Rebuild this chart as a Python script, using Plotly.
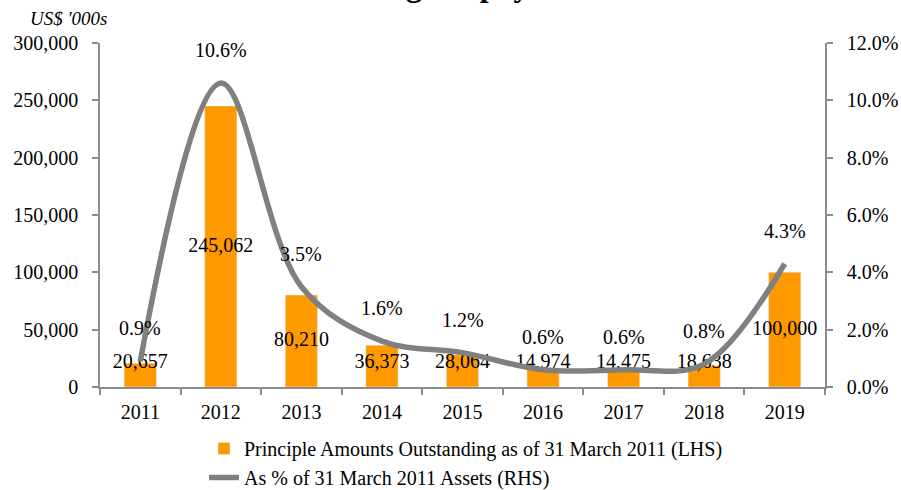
import plotly.graph_objects as go

years = ["2011", "2012", "2013", "2014", "2015", "2016", "2017", "2018", "2019"]
principal = [20657, 245062, 80210, 36373, 28064, 14974, 14475, 18638, 100000]
pct_assets = [0.9, 10.6, 3.5, 1.6, 1.2, 0.6, 0.6, 0.8, 4.3]

left_ticks = [0, 50000, 100000, 150000, 200000, 250000, 300000]
right_ticks = [0, 2, 4, 6, 8, 10, 12]

bar_name = "Principle Amounts Outstanding as of 31 March 2011 (LHS)"
line_name = "As % of 31 March 2011 Assets (RHS)"

FONT = "Liberation Serif, Times New Roman, serif"
ORANGE = "#FF9900"
GREY = "#808080"
AXIS = "#8C8C8C"

fig = go.Figure()

fig.add_trace(go.Bar(
    x=years, y=principal, name=bar_name, marker_color=ORANGE,
    width=0.4, yaxis="y",
))

# bar value labels, centred in the bars (raised for short bars)
fig.add_trace(go.Scatter(
    x=years, y=[max(v / 2, 21000) for v in principal],
    text=[f"{v:,}" for v in principal], mode="text",
    textposition="middle center", textfont=dict(family=FONT, size=20, color="black"),
    showlegend=False, cliponaxis=False, yaxis="y", hoverinfo="skip",
))

fig.add_trace(go.Scatter(
    x=years, y=pct_assets, name=line_name, mode="lines",
    line=dict(color=GREY, width=5.5, shape="spline", smoothing=1.0),
    yaxis="y2",
))

annotations = []
for i, p in enumerate(pct_assets):
    annotations.append(dict(
        x=i, y=p, xref="x", yref="y2", text=f"{p:.1f}%", showarrow=False,
        yshift=33, font=dict(family=FONT, size=20, color="black"),
    ))

annotations.append(dict(
    x=(273 - 100) / 725, y=(387 - 5) / 344, xref="paper", yref="paper",
    xanchor="left", yanchor="bottom", text="<b>Borrowings Repayment</b>",
    showarrow=False, font=dict(family=FONT, size=32, color="black"),
))
annotations.append(dict(
    x=(28 - 100) / 725, y=(387 - 18) / 344, xref="paper", yref="paper",
    xanchor="left", yanchor="middle", text="<i>US$ '000s</i>",
    showarrow=False, font=dict(family=FONT, size=19, color="black"),
))

fig.update_layout(
    width=901, height=490,
    margin=dict(l=100, r=76, t=43, b=103, autoexpand=False),
    paper_bgcolor="white", plot_bgcolor="white",
    font=dict(family=FONT, size=20, color="black"),
    showlegend=True,
    legend=dict(
        orientation="v", x=204 / 901, xanchor="left", xref="container",
        y=1 - 429 / 490, yanchor="top", yref="container",
        font=dict(family=FONT, size=20, color="black"),
        bgcolor="rgba(0,0,0,0)", tracegroupgap=0, itemsizing="trace",
    ),
    xaxis=dict(
        type="category", range=[-0.5, len(years) - 0.5], autorange=False, automargin=False,
        showgrid=False, showline=True, linecolor=AXIS, linewidth=1.5,
        ticks="outside", tickson="boundaries", ticklen=6, tickcolor=AXIS, tickwidth=1.5,
        ticklabelstandoff=6,
        tickfont=dict(family=FONT, size=20), zeroline=False, tickangle=0,
    ),
    yaxis=dict(
        range=[0, 300000], tickvals=left_ticks, tickformat=",", showgrid=False,
        automargin=False, ticklabelstandoff=10,
        showline=True, linecolor=AXIS, linewidth=1.5, ticks="outside", ticklen=6,
        tickcolor=AXIS, tickwidth=1.5, zeroline=False, tickfont=dict(family=FONT, size=20),
    ),
    yaxis2=dict(
        range=[0, 12], tickvals=right_ticks, ticktext=[f"{t:.1f}%" for t in right_ticks],
        overlaying="y", side="right", showgrid=False, showline=True, linecolor=AXIS,
        automargin=False, ticklabelstandoff=10,
        linewidth=1.5, ticks="outside", ticklen=6, tickcolor=AXIS, tickwidth=1.5,
        zeroline=False, tickfont=dict(family=FONT, size=20),
    ),
    annotations=annotations,
)

fig.write_html(
    "out.html",
    config={"displayModeBar": False},
    post_script="document.body.style.margin='0';document.body.style.overflow='hidden';",
)
